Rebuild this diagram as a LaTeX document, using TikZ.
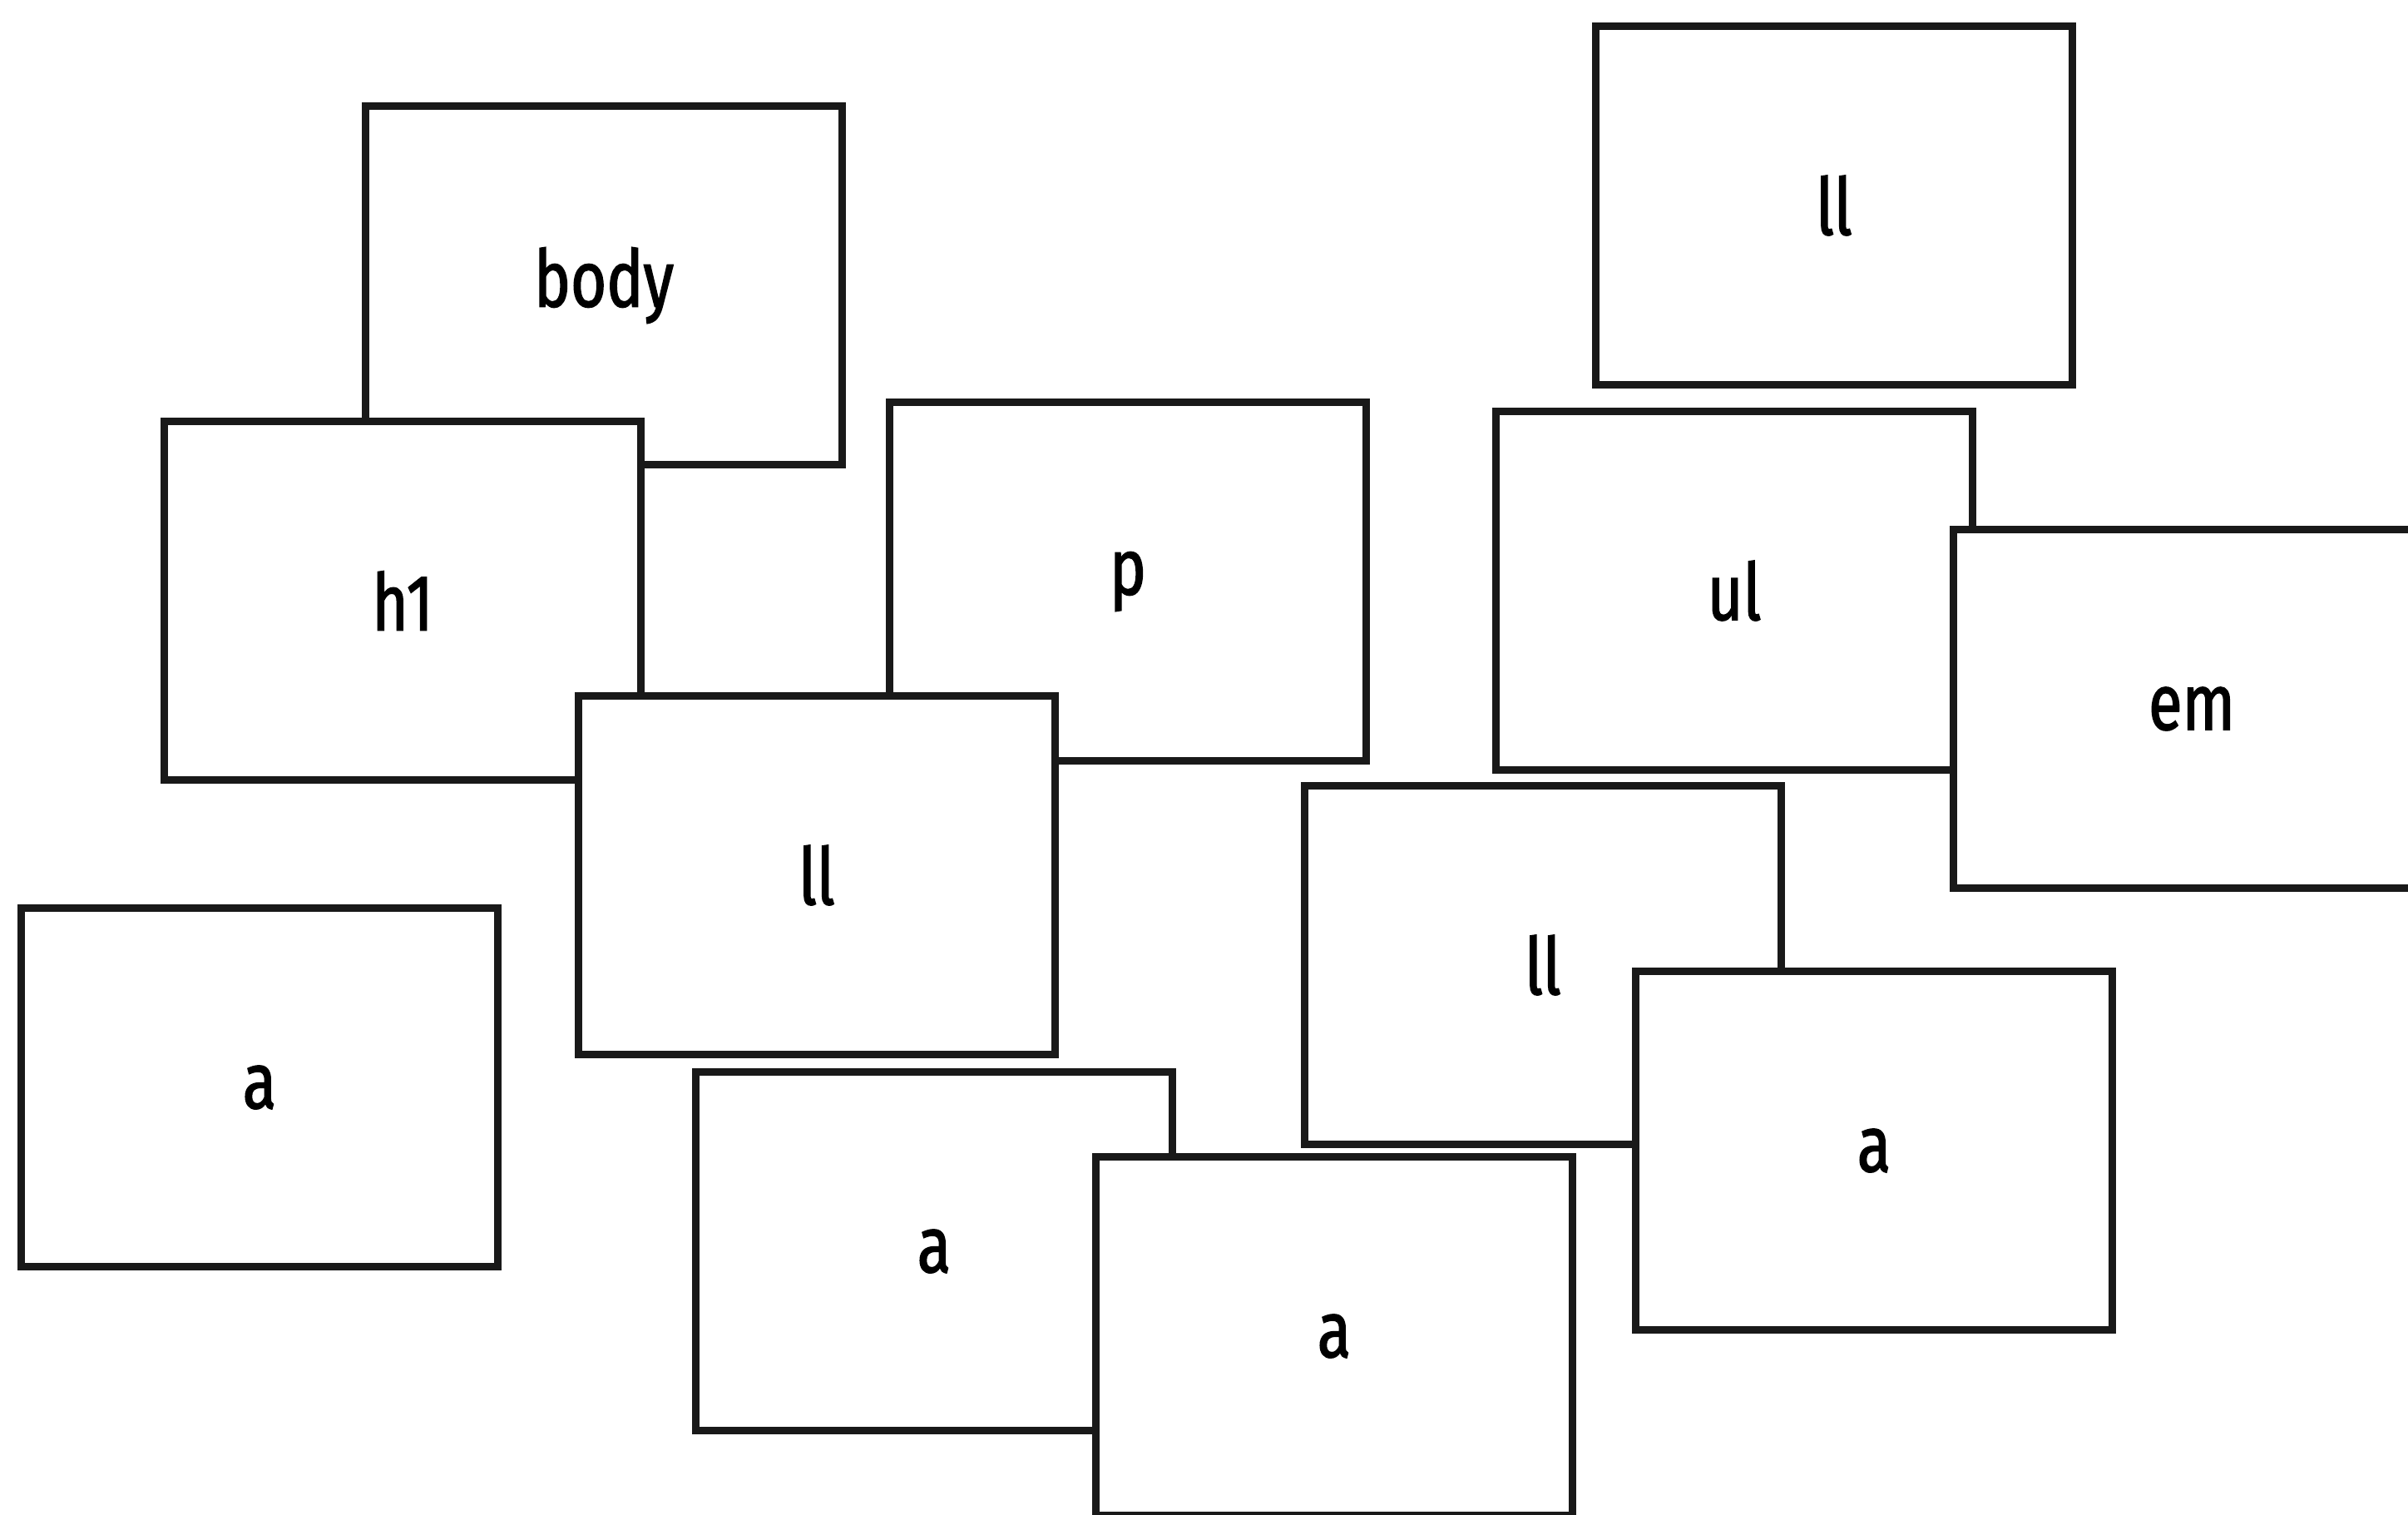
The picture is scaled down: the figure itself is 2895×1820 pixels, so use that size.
\documentclass[tikz,border=0pt]{standalone}
\usepackage{fontspec}
\setmainfont{Fira Sans}[FakeStretch=0.78,FakeBold=1.6]
\begin{document}
\begin{tikzpicture}[x=0.01cm,y=-0.01cm,
        tag/.style={draw=black!90,line width=0.09cm,fill=white,
                minimum width=5.72cm,minimum height=4.30cm,inner sep=0pt,
                font=\fontsize{27}{32}\selectfont}]
        \useasboundingbox (0,0) rectangle (2895,1820);
        \clip (0,0) rectangle (2895,1820);

        \foreach \n/\x/\y/\t in {body/726/343/body, h1/484/722/h1, p/1356/699/p,
                        midli/982/1052/ll, lefta/312/1307/a, lowa/1123/1504/a,
                        basea/1604/1606/a, rightli/1855/1160/ll, righta/2253/1383/a,
                        topli/2205/247/ll, ul/2085/710/ul, em/2635/852/em}{
                \node[tag] (\n) at (\x,\y) {\t};
            }
    \end{tikzpicture}
\end{document}
